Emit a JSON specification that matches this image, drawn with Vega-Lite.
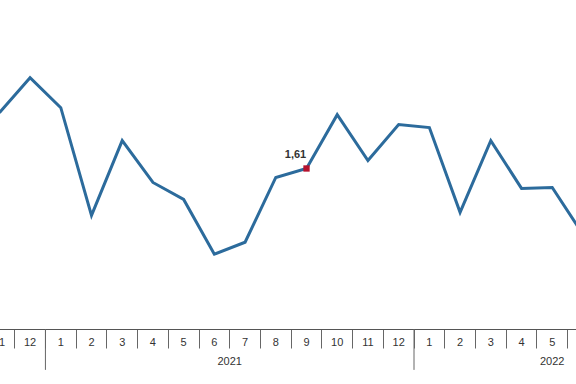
{
  "width": 576,
  "height": 329,
  "autosize": {"type": "none"},
  "padding": {"left": 0, "top": 0, "right": 0, "bottom": 55},
  "background": "white",
  "config": {"view": {"stroke": null}},
  "datasets": {
    "series": [
      {"period": "2020M11", "rate": 2.17},
      {"period": "2020M12", "rate": 2.52},
      {"period": "2021M01", "rate": 2.22},
      {"period": "2021M02", "rate": 1.14},
      {"period": "2021M03", "rate": 1.89},
      {"period": "2021M04", "rate": 1.47},
      {"period": "2021M05", "rate": 1.30},
      {"period": "2021M06", "rate": 0.75},
      {"period": "2021M07", "rate": 0.87},
      {"period": "2021M08", "rate": 1.52},
      {"period": "2021M09", "rate": 1.61},
      {"period": "2021M10", "rate": 2.15},
      {"period": "2021M11", "rate": 1.69},
      {"period": "2021M12", "rate": 2.05},
      {"period": "2022M01", "rate": 2.02},
      {"period": "2022M02", "rate": 1.17},
      {"period": "2022M03", "rate": 1.89},
      {"period": "2022M04", "rate": 1.41},
      {"period": "2022M05", "rate": 1.42},
      {"period": "2022M06", "rate": 0.95}
    ],
    "marker": [{"period": "2021M09", "rate": 1.61, "label": "1,61"}],
    "yearstarts": [{"period": "2021M01"}, {"period": "2022M01"}],
    "year2021": [{"period": "2021M06", "year": "2021"}],
    "year2022": [{"period": "2022M05", "year": "2022"}]
  },
  "encoding": {
    "x": {
      "field": "period", "type": "ordinal",
      "scale": {"type": "band", "domain": ["2020M11","2020M12","2021M01","2021M02","2021M03","2021M04","2021M05","2021M06","2021M07","2021M08","2021M09","2021M10","2021M11","2021M12","2022M01","2022M02","2022M03","2022M04","2022M05","2022M06"], "range": [-16, 598.3], "paddingInner": 0, "paddingOuter": 0},
      "axis": {
        "title": null, "bandPosition": 0, "labelAngle": 0, "grid": false,
        "labelExpr": "toNumber(slice(datum.value, 5))",
        "tickSize": 19, "labelPadding": -12,
        "domainColor": "#555", "tickColor": "#666", "labelColor": "#333",
        "labelFont": "Liberation Sans", "labelFontSize": 11
      }
    }
  },
  "layer": [
    {
      "data": {"name": "series"},
      "mark": {"type": "line", "color": "#2c6b9c", "strokeWidth": 3, "strokeJoin": "miter"},
      "encoding": {
        "x": {"field": "period", "type": "ordinal", "bandPosition": 0.5},
        "y": {"field": "rate", "type": "quantitative", "scale": {"domain": [0, 3.3], "nice": false, "zero": false}, "axis": null}
      }
    },
    {
      "data": {"name": "marker"},
      "mark": {"type": "square", "size": 40, "color": "#b5122e", "opacity": 1, "filled": true},
      "encoding": {
        "x": {"field": "period", "type": "ordinal", "bandPosition": 0.5},
        "y": {"field": "rate", "type": "quantitative"}
      }
    },
    {
      "data": {"name": "marker"},
      "mark": {"type": "text", "font": "Liberation Sans", "fontWeight": "bold", "fontSize": 11, "dx": -11, "dy": -13, "color": "#333"},
      "encoding": {
        "x": {"field": "period", "type": "ordinal", "bandPosition": 0.5},
        "y": {"field": "rate", "type": "quantitative"},
        "text": {"field": "label"}
      }
    },
    {
      "data": {"name": "yearstarts"},
      "mark": {"type": "rule", "color": "#666", "strokeWidth": 1, "clip": false},
      "encoding": {
        "x": {"field": "period", "type": "ordinal", "bandPosition": 0},
        "y": {"datum": 0},
        "y2": {"datum": -0.41}
      }
    },
    {
      "data": {"name": "year2021"},
      "mark": {"type": "text", "font": "Liberation Sans", "fontSize": 11, "color": "#333", "baseline": "middle", "clip": false},
      "encoding": {
        "x": {"field": "period", "type": "ordinal", "bandPosition": 1},
        "y": {"datum": -0.33},
        "text": {"field": "year"}
      }
    },
    {
      "data": {"name": "year2022"},
      "mark": {"type": "text", "font": "Liberation Sans", "fontSize": 11, "color": "#333", "baseline": "middle", "clip": false},
      "encoding": {
        "x": {"field": "period", "type": "ordinal", "bandPosition": 0.5},
        "y": {"datum": -0.33},
        "text": {"field": "year"}
      }
    }
  ]
}
